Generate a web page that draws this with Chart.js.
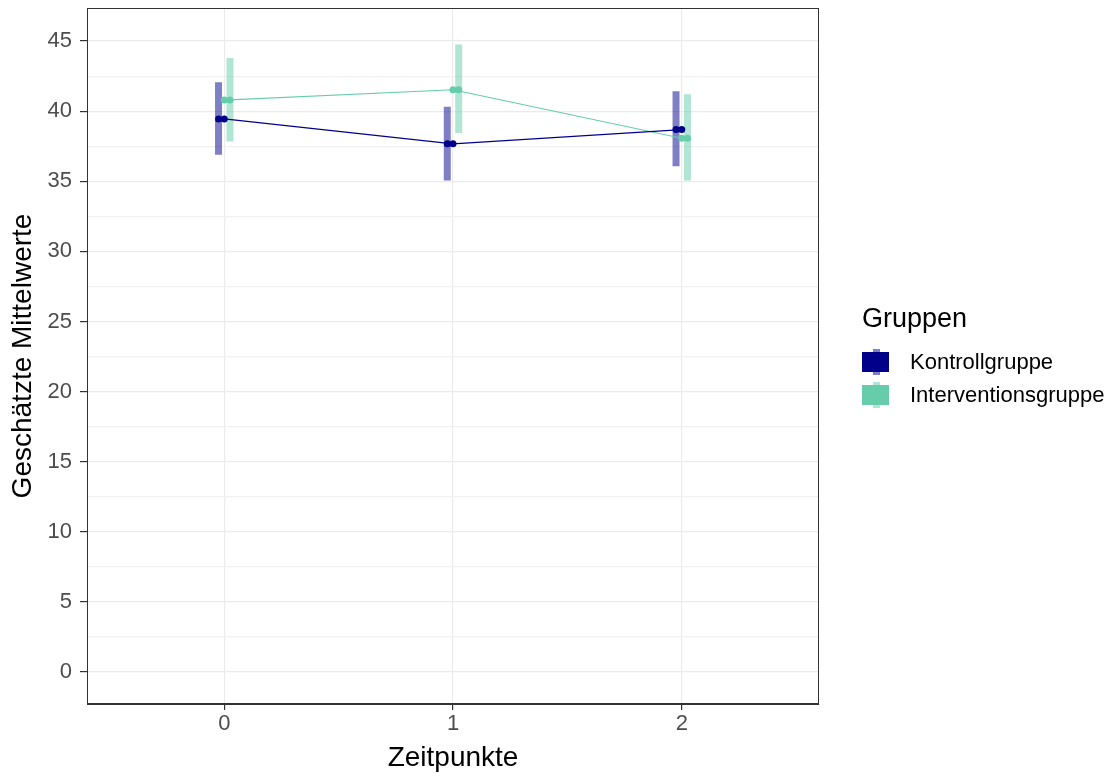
<!DOCTYPE html>
<html lang="de">
<head>
<meta charset="UTF-8">
<title>Geschätzte Mittelwerte</title>
<script src="https://cdn.jsdelivr.net/npm/chart.js"></script>
<style>
  body { margin: 0; background: #fff; font-family: "Liberation Sans", Arial, sans-serif; }
  #wrap { position: relative; width: 1109px; height: 780px; }
  #legend { position: absolute; left: 862px; top: 0; }
  .ltitle { position: absolute; left: 0; top: 305px; font-size: 27px; line-height: 27px; color: #000; white-space: nowrap; }
  .key { position: absolute; left: 0; width: 27px; height: 20px; }
  .stub { position: absolute; left: 11px; width: 7px; height: 26px; }
  .label { position: absolute; left: 48px; font-size: 22px; line-height: 22px; color: #000; white-space: nowrap; }
</style>
</head>
<body>
<div id="wrap">
  <canvas id="chart" width="1109" height="780"></canvas>
  <div id="legend"></div>
</div>
<script>
// Zeitpunkte (x) und Gruppen
const zeitpunkte = [0, 1, 2];
const gruppen = ['Kontrollgruppe', 'Interventionsgruppe'];

// geschätzte Mittelwerte mit Konfidenzintervall
const kontrollMittel = [39.45, 37.67, 38.69];
const kontrollUnten  = [36.90, 35.05, 36.07];
const kontrollOben   = [42.07, 40.31, 41.43];

const interventionMittel = [40.79, 41.53, 38.07];
const interventionUnten  = [37.84, 38.45, 35.05];
const interventionOben   = [43.80, 44.76, 41.21];

const yTicks = [0, 5, 10, 15, 20, 25, 30, 35, 40, 45];

const farben = ['#00008B', '#66CDAA'];
const farbenHell = ['rgba(0,0,139,0.5)', 'rgba(102,205,170,0.5)'];
const dodge = [-0.025, 0.025];

Chart.defaults.font.family = '"Liberation Sans", Arial, sans-serif';

function errorbarData(unten, oben, dx) {
  const pts = [];
  zeitpunkte.forEach((t, i) => {
    pts.push({x: t + dx, y: unten[i]});
    pts.push({x: t + dx, y: oben[i]});
    pts.push({x: t + dx, y: null});
  });
  return pts;
}
function punkte(werte, dx) {
  return zeitpunkte.map((t, i) => ({x: t + dx, y: werte[i]}));
}

const mittel = [kontrollMittel, interventionMittel];
const unten = [kontrollUnten, interventionUnten];
const oben = [kontrollOben, interventionOben];

const datasets = [];
gruppen.forEach((g, k) => {
  // Fehlerbalken
  datasets.push({
    label: g + ' KI',
    data: errorbarData(unten[k], oben[k], dodge[k]),
    showLine: true,
    spanGaps: false,
    borderColor: farbenHell[k],
    borderWidth: 7,
    borderCapStyle: 'butt',
    pointRadius: 0,
    order: 3
  });
  // Verbindungslinie
  datasets.push({
    label: g,
    data: punkte(mittel[k], 0),
    showLine: true,
    borderColor: farben[k],
    borderWidth: 1.2,
    pointRadius: 3.5,
    pointBackgroundColor: farben[k],
    pointBorderWidth: 0,
    order: 2
  });
  // Punkte (dodged)
  datasets.push({
    label: g + ' Punkt',
    data: punkte(mittel[k], dodge[k]),
    showLine: false,
    pointRadius: 3.5,
    pointBackgroundColor: farben[k],
    pointBorderWidth: 0,
    order: 1
  });
});

const panelBorder = {
  id: 'panelBorder',
  afterDraw(chart) {
    const {ctx, chartArea: a} = chart;
    ctx.save();
    ctx.strokeStyle = '#333333';
    ctx.lineWidth = 1;
    ctx.strokeRect(Math.round(a.left) + 0.5, Math.round(a.top) + 0.5,
                   Math.round(a.right - a.left) - 1, Math.round(a.bottom - a.top) - 1);
    ctx.restore();
  }
};

new Chart(document.getElementById('chart'), {
  type: 'scatter',
  data: { datasets },
  options: {
    responsive: false,
    animation: false,
    layout: { padding: { top: 8, right: 290, left: 0, bottom: 0 } },
    plugins: { legend: { display: false }, tooltip: { enabled: false } },
    scales: {
      x: {
        type: 'linear',
        min: -0.6,
        max: 2.6,
        afterBuildTicks: s => { s.ticks = zeitpunkte.map(v => ({value: v})); },
        afterFit: s => { s.height = 76; s.paddingLeft = 0; s.paddingRight = 0; },
        grid: { color: '#EBEBEB', lineWidth: 1.2, tickColor: '#333333', tickLength: 6 },
        border: { color: '#333333', width: 1 },
        ticks: { color: '#4D4D4D', font: { size: 22 }, padding: 1, callback: v => String(v) },
        title: { display: true, text: 'Zeitpunkte', color: '#000', font: { size: 28 }, padding: { top: 0, bottom: 5 } }
      },
      y: {
        min: -2.28,
        max: 47.36,
        afterBuildTicks: s => {
          const t = [];
          yTicks.forEach(v => { t.push({value: v}); if (v + 2.5 < 47.36) t.push({value: v + 2.5}); });
          s.ticks = t;
        },
        afterFit: s => { s.width = 87; s.paddingTop = 0; s.paddingBottom = 0; },
        grid: {
          color: c => (c.tick && c.tick.value % 5 === 0) ? '#EBEBEB' : '#F1F1F1',
          lineWidth: 1.2,
          tickColor: c => (c.tick && c.tick.value % 5 === 0) ? '#333333' : 'rgba(0,0,0,0)',
          tickLength: 7
        },
        border: { color: '#333333', width: 1 },
        ticks: {
          color: '#4D4D4D', font: { size: 22 }, padding: 8,
          callback: v => (v % 5 === 0 ? String(v) : '')
        },
        title: { display: true, text: 'Geschätzte Mittelwerte', color: '#000', font: { size: 28 }, padding: { top: 6, bottom: 0 } }
      }
    }
  },
  plugins: [panelBorder]
});

// Legende
const legend = document.getElementById('legend');
const titel = document.createElement('div');
titel.className = 'ltitle';
titel.textContent = 'Gruppen';
legend.appendChild(titel);
const keyTops = [352, 385];
gruppen.forEach((g, k) => {
  const stub = document.createElement('div');
  stub.className = 'stub';
  stub.style.top = (keyTops[k] - 3) + 'px';
  stub.style.background = farbenHell[k];
  legend.appendChild(stub);
  const key = document.createElement('div');
  key.className = 'key';
  key.style.top = keyTops[k] + 'px';
  key.style.background = farben[k];
  legend.appendChild(key);
  const lab = document.createElement('div');
  lab.className = 'label';
  lab.style.top = (keyTops[k] - 1) + 'px';
  lab.textContent = g;
  legend.appendChild(lab);
});
</script>
</body>
</html>
